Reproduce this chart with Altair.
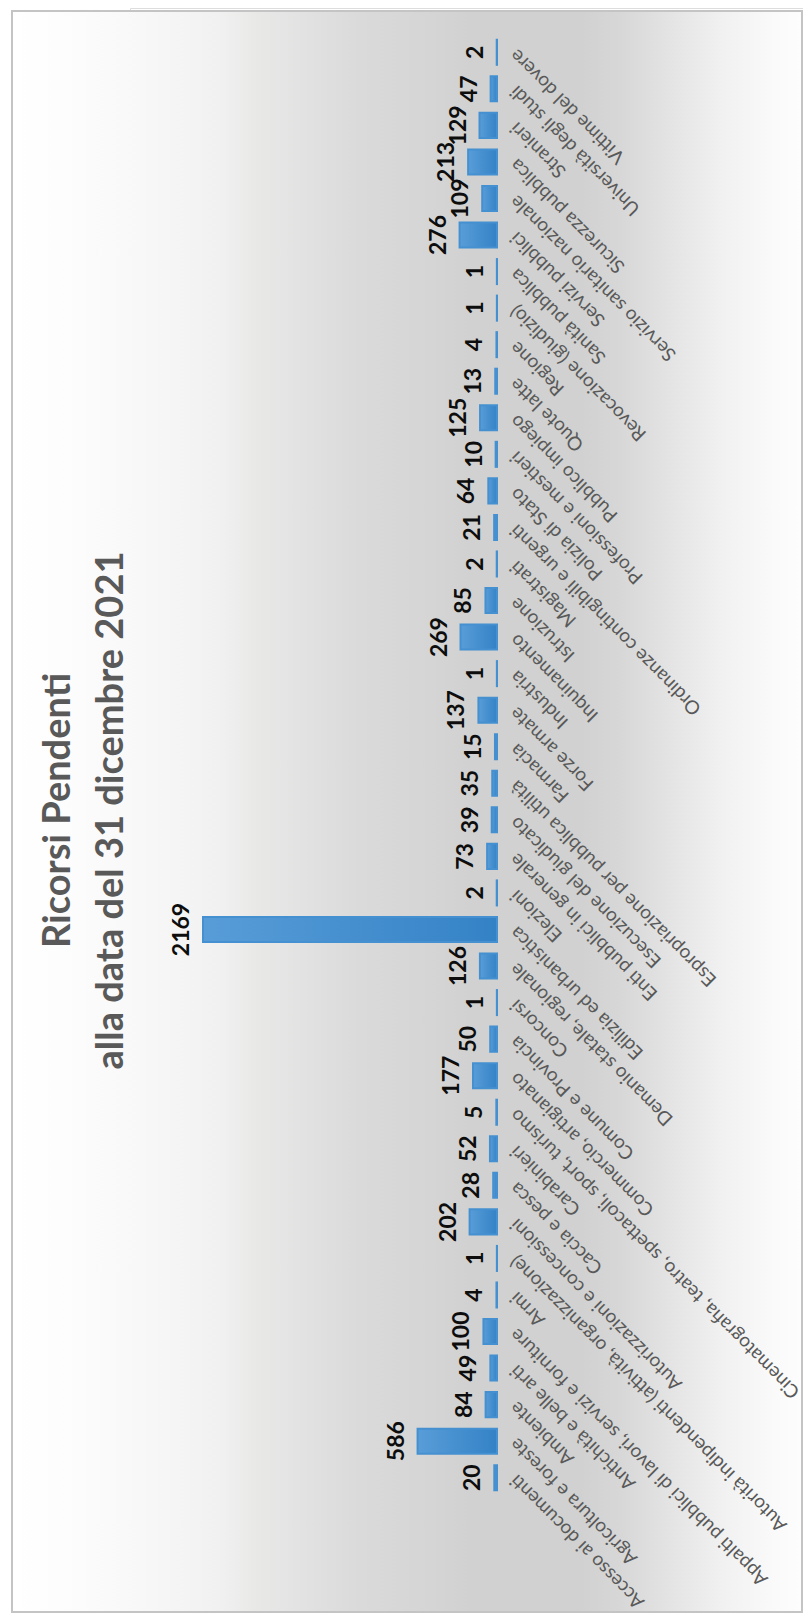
import altair as alt
import pandas as pd

# Categories listed bottom-to-top as they appear (alphabetical)
categories = [
    "Accesso ai documenti",
    "Agricoltura e foreste",
    "Ambiente",
    "Antichità e belle arti",
    "Appalti pubblici di lavori, servizi e forniture",
    "Armi",
    "Autorità indipendenti (attività, organizzazione)",
    "Autorizzazioni e concessioni",
    "Caccia e pesca",
    "Carabinieri",
    "Cinematografia, teatro, spettacoli, sport, turismo",
    "Commercio, artigianato",
    "Comune e Provincia",
    "Concorsi",
    "Demanio statale, regionale",
    "Edilizia ed urbanistica",
    "Elezioni",
    "Enti pubblici in generale",
    "Esecuzione del giudicato",
    "Espropriazione per pubblica utilità",
    "Farmacia",
    "Forze armate",
    "Industria",
    "Inquinamento",
    "Istruzione",
    "Magistrati",
    "Ordinanze contingibili e urgenti",
    "Polizia di Stato",
    "Professioni e mestieri",
    "Pubblico impiego",
    "Quote latte",
    "Regione",
    "Revocazione (giudizio)",
    "Sanità pubblica",
    "Servizi pubblici",
    "Servizio sanitario nazionale",
    "Sicurezza pubblica",
    "Stranieri",
    "Università degli studi",
    "Vittime del dovere",
]
values = [20, 586, 84, 49, 100, 4, 1, 202, 28, 52, 5, 177, 50, 1, 126, 2169, 2, 73,
          39, 35, 15, 137, 1, 269, 85, 2, 21, 64, 10, 125, 13, 4, 1, 1, 276, 109,
          213, 129, 47, 2]

title_lines = ["Ricorsi Pendenti", "alla data del 31 dicembre 2021"]

df = pd.DataFrame({"categoria": categories, "ricorsi": values})
order = categories[::-1]

bg_gradient = alt.LinearGradient(
    gradient="linear", x1=0, x2=1, y1=0, y2=0,
    stops=[
        alt.GradientStop(offset=0.0, color="#ffffff"),
        alt.GradientStop(offset=0.083, color="#fcfcfc"),
        alt.GradientStop(offset=0.18, color="#f7f7f7"),
        alt.GradientStop(offset=0.26, color="#f1f1f1"),
        alt.GradientStop(offset=0.31, color="#e8e9e7"),
        alt.GradientStop(offset=0.377, color="#e1e1e1"),
        alt.GradientStop(offset=0.44, color="#dadada"),
        alt.GradientStop(offset=0.53, color="#d4d5d4"),
        alt.GradientStop(offset=0.58, color="#d0d1d0"),
        alt.GradientStop(offset=0.72, color="#d0d1d0"),
        alt.GradientStop(offset=0.77, color="#d7d7d7"),
        alt.GradientStop(offset=0.834, color="#e4e4e4"),
        alt.GradientStop(offset=0.9, color="#f1f1f1"),
        alt.GradientStop(offset=0.966, color="#fafafa"),
        alt.GradientStop(offset=1.0, color="#fdfdfd"),
    ],
)

bar_gradient = alt.LinearGradient(
    gradient="linear", x1=0, x2=1, y1=0, y2=0,
    stops=[
        alt.GradientStop(offset=0.0, color="#589dd8"),
        alt.GradientStop(offset=1.0, color="#3482c6"),
    ],
)

bg = alt.Chart(pd.DataFrame({"k": [0]})).mark_rect(
    fill=bg_gradient, stroke="#c4c4c4", strokeWidth=2
).encode(
    x=alt.value(-118), x2=alt.value(672), y=alt.value(3), y2=alt.value(1604)
)

y_enc = alt.Y(
    "categoria:N",
    sort=order,
    scale=alt.Scale(range=[27, 1487], paddingInner=0.315, paddingOuter=0.13),
    axis=alt.Axis(
        orient="right", offset=-306, title=None, ticks=False, domain=False, grid=False,
        labelAngle=225, labelAlign="right", labelBaseline="middle", labelPadding=16,
        labelFontSize=19, labelFont="Lato", labelColor="#595959", labelLimit=0,
        labelOverlap=False, zindex=1,
    ),
)
x_enc = alt.X(
    "ricorsi:Q",
    scale=alt.Scale(domain=[0, 2169], range=[367, 73], nice=False, zero=True),
    axis=None,
)

base = alt.Chart(df)

bars = base.mark_bar(color=bar_gradient, stroke="#4590d0", strokeWidth=2).encode(
    x=x_enc, y=y_enc
)

labels = base.mark_text(
    angle=270, align="center", baseline="alphabetic", dy=-14,
    fontSize=23, fontWeight="bold", font="Lato", color="#0d0d0d"
).encode(x=x_enc, y=y_enc, text=alt.Text("ricorsi:Q"))

chart = alt.layer(bg, bars, labels).properties(
    width=673,
    height=1605,
    autosize=alt.AutoSizeParams(type="none"),
    padding={"left": 122, "top": 0, "right": 0, "bottom": 0},
    title=alt.TitleParams(
        text=title_lines, orient="left", anchor="middle", fontSize=38,
        font="Lato", fontWeight="bold", color="#595959", lineHeight=53, offset=-120,
    ),
).configure_view(stroke=None).configure(background="white")

chart.save("out.html", embed_options={"renderer": "svg", "actions": False})
